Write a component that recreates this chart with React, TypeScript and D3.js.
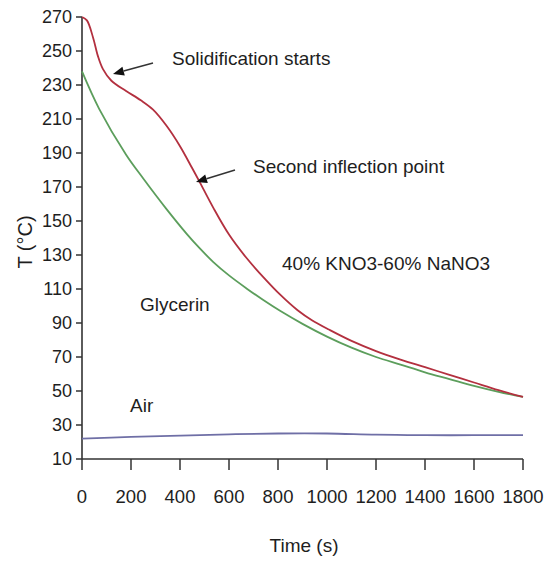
import React from "react";
import * as d3 from "d3";

const yTicks = [10, 30, 50, 70, 90, 110, 130, 150, 170, 190, 210, 230, 250, 270];
const xTicks = [0, 200, 400, 600, 800, 1000, 1200, 1400, 1600, 1800];

const saltTime = [0, 20, 45, 65, 85, 120, 180, 240, 290, 345, 400, 450, 480, 535, 600, 670, 740, 810, 880, 940, 1010, 1100, 1200, 1300, 1400, 1500, 1600, 1700, 1800];
const saltTemp = [270, 268, 258, 247, 239.5, 232.5, 226.5, 221, 215.5, 206, 194, 181, 173, 158, 142, 128.5, 117, 106.5, 97.5, 91.5, 86, 79.5, 73.5, 68.5, 64, 59.5, 55, 50.5, 46.5];

const glyTime = [0, 70, 180, 250, 345, 430, 480, 535, 600, 670, 740, 810, 900, 1000, 1100, 1200, 1300, 1400, 1500, 1600, 1700, 1800];
const glyTemp = [238, 216, 189, 175, 157, 142, 134, 126, 118, 110.5, 103.5, 97, 89.5, 82, 75.5, 70, 65.5, 61, 57, 53, 49.5, 46.5];

const airTime = [0, 200, 400, 600, 800, 1000, 1200, 1400, 1600, 1800];
const airTemp = [22, 23, 23.8, 24.5, 25, 25, 24.3, 24, 24, 24];

const W = 558, H = 563;
const x = d3.scaleLinear().domain([0, 1800]).range([82, 523]);
const y = d3.scaleLinear().domain([10, 270]).range([459, 17]);

const line = d3.line<[number, number]>().x(d => x(d[0])).y(d => y(d[1])).curve(d3.curveCatmullRom.alpha(0.5));
const zip = (a: number[], b: number[]) => a.map((v, i) => [v, b[i]] as [number, number]);

const FONT = "'Liberation Sans', Arial, sans-serif";
const TXT = "#1e1e1e";

function Arrow({ x1, y1, x2, y2 }: { x1: number; y1: number; x2: number; y2: number }) {
  const ang = Math.atan2(y2 - y1, x2 - x1);
  const L = 11, Wd = 4.5;
  const bx = x2 - L * Math.cos(ang), by = y2 - L * Math.sin(ang);
  const px = -Math.sin(ang) * Wd, py = Math.cos(ang) * Wd;
  return (
    <g>
      <line x1={x1} y1={y1} x2={bx} y2={by} stroke="#333" strokeWidth={1.5} />
      <path d={`M${x2},${y2}L${bx + px},${by + py}L${bx - px},${by - py}Z`} fill="#111" />
    </g>
  );
}

export default function App() {
  return (
    <svg width={W} height={H} style={{ position: "absolute", left: 0, top: 0, background: "#fff" }} fontFamily={FONT}>
      <rect width={W} height={H} fill="#fff" />
      <line x1={x(0)} y1={y(270)} x2={x(0)} y2={y(10)} stroke="#333" strokeWidth={1.6} />
      <line x1={x(0)} y1={y(10)} x2={x(1800)} y2={y(10)} stroke="#333" strokeWidth={1.6} />
      {yTicks.map(t => (
        <g key={"y" + t}>
          <line x1={x(0) - 6} x2={x(0)} y1={y(t)} y2={y(t)} stroke="#333" strokeWidth={1.5} />
          <text x={72} y={y(t)} dy="0.35em" textAnchor="end" fontSize={18} fill={TXT}>{t}</text>
        </g>
      ))}
      {xTicks.map(t => (
        <g key={"x" + t}>
          <line x1={x(t)} x2={x(t)} y1={y(10)} y2={y(10) + 11} stroke="#333" strokeWidth={1.5} />
          <text x={x(t)} y={497} dy="0.35em" textAnchor="middle" fontSize={18.5} fill={TXT}>{t}</text>
        </g>
      ))}
      <text transform={`translate(25,242) rotate(-90)`} textAnchor="middle" dy="0.35em" fontSize={20} fill={TXT}>T (°C)</text>
      <text x={304} y={545} textAnchor="middle" dy="0.35em" fontSize={19} fill={TXT}>Time (s)</text>

      <path d={line(zip(airTime, airTemp)) || ""} fill="none" stroke="#6f6fa6" strokeWidth={1.8} />
      <path d={line(zip(glyTime, glyTemp)) || ""} fill="none" stroke="#5c9e5c" strokeWidth={1.8} />
      <path d={line(zip(saltTime, saltTemp)) || ""} fill="none" stroke="#b3303f" strokeWidth={1.8} />

      <text x={172} y={58} dy="0.35em" fontSize={19} fill={TXT}>Solidification starts</text>
      <Arrow x1={153} y1={63} x2={113} y2={74} />
      <text x={253} y={166} dy="0.35em" fontSize={19} fill={TXT}>Second inflection point</text>
      <Arrow x1={235} y1={170} x2={196} y2={182} />
      <text x={282} y={263} dy="0.35em" fontSize={19} fill={TXT}>40% KNO3-60% NaNO3</text>
      <text x={140} y={304} dy="0.35em" fontSize={19} fill={TXT}>Glycerin</text>
      <text x={130} y={405} dy="0.35em" fontSize={19} fill={TXT}>Air</text>
    </svg>
  );
}
